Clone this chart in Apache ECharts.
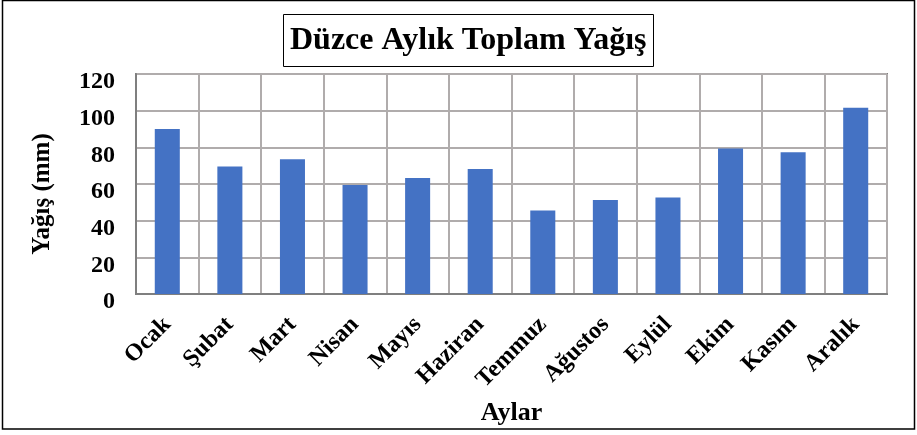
<!DOCTYPE html>
<html>
<head>
<meta charset="utf-8">
<script src="https://cdn.jsdelivr.net/npm/echarts@6/dist/echarts.min.js"></script>
<style>
    html, body { margin: 0; padding: 0; background: #fff; }
    #chart { width: 917px; height: 435px; }
</style>
</head>
<body>
<div id="chart"></div>
<script>
// aylar ve yağış değerleri (mm)
const months = ['Ocak', 'Şubat', 'Mart', 'Nisan', 'Mayıs', 'Haziran', 'Temmuz', 'Ağustos', 'Eylül', 'Ekim', 'Kasım', 'Aralık']
const rainfall = [90.0, 69.6, 73.5, 59.5, 63.3, 68.2, 45.5, 51.3, 52.6, 79.3, 77.3, 101.6]
const yTicks = { min: 0, max: 120, interval: 20 }

const font = '"Liberation Serif", "Times New Roman", serif'
const chart = echarts.init(document.getElementById('chart'))

const option = {
    animation: false,
    textStyle: { fontFamily: font },
    title: {
        text: 'Düzce Aylık Toplam Yağış',
        left: 283,
        top: 14,
        padding: [11, 7, 10, 7],
        borderColor: '#000',
        borderWidth: 1,
        textStyle: {
            fontFamily: font,
            fontWeight: 'bold',
            fontSize: 32,
            color: '#000'
        }
    },
    // dış çerçeve
    graphic: [
        {
            type: 'rect',
            shape: { x: 2.5, y: 0.5, width: 912, height: 428.5 },
            style: { fill: 'none', stroke: '#000', lineWidth: 1.5 },
            silent: true
        }
    ],
    grid: {
        left: 136,
        right: 30,
        top: 74,
        bottom: 141,
        show: true,
        borderColor: '#7f7f7f',
        borderWidth: 2
    },
    xAxis: {
        type: 'category',
        data: months,
        name: 'Aylar',
        nameLocation: 'middle',
        nameGap: 106,
        nameTextStyle: {
            fontFamily: font,
            fontWeight: 'bold',
            fontSize: 26,
            color: '#000'
        },
        axisLine: { show: true, lineStyle: { color: '#7f7f7f', width: 2 } },
        axisTick: { show: false },
        axisLabel: {
            rotate: 45,
            interval: 0,
            margin: 27,
            fontFamily: font,
            fontWeight: 'bold',
            fontSize: 24,
            color: '#000'
        },
        splitLine: { show: true, lineStyle: { color: '#b0acac', width: 2 } }
    },
    yAxis: {
        type: 'value',
        min: yTicks.min,
        max: yTicks.max,
        interval: yTicks.interval,
        name: 'Yağış (mm)',
        nameLocation: 'middle',
        nameGap: 81,
        nameTextStyle: {
            fontFamily: font,
            fontWeight: 'bold',
            fontSize: 25,
            color: '#000',
            padding: [0, 0, 0, -20]
        },
        axisLine: { show: true, lineStyle: { color: '#7f7f7f', width: 2 } },
        axisTick: { show: false },
        axisLabel: {
            margin: 21,
            verticalAlign: 'top',
            lineHeight: 16,
            fontFamily: font,
            fontWeight: 'bold',
            fontSize: 24,
            color: '#000'
        },
        splitLine: { show: true, lineStyle: { color: '#b0acac', width: 2 } }
    },
    series: [
        {
            type: 'bar',
            data: rainfall,
            barWidth: '40%',
            itemStyle: { color: '#4472c4' }
        }
    ]
}
chart.setOption(option)
</script>
</body>
</html>
